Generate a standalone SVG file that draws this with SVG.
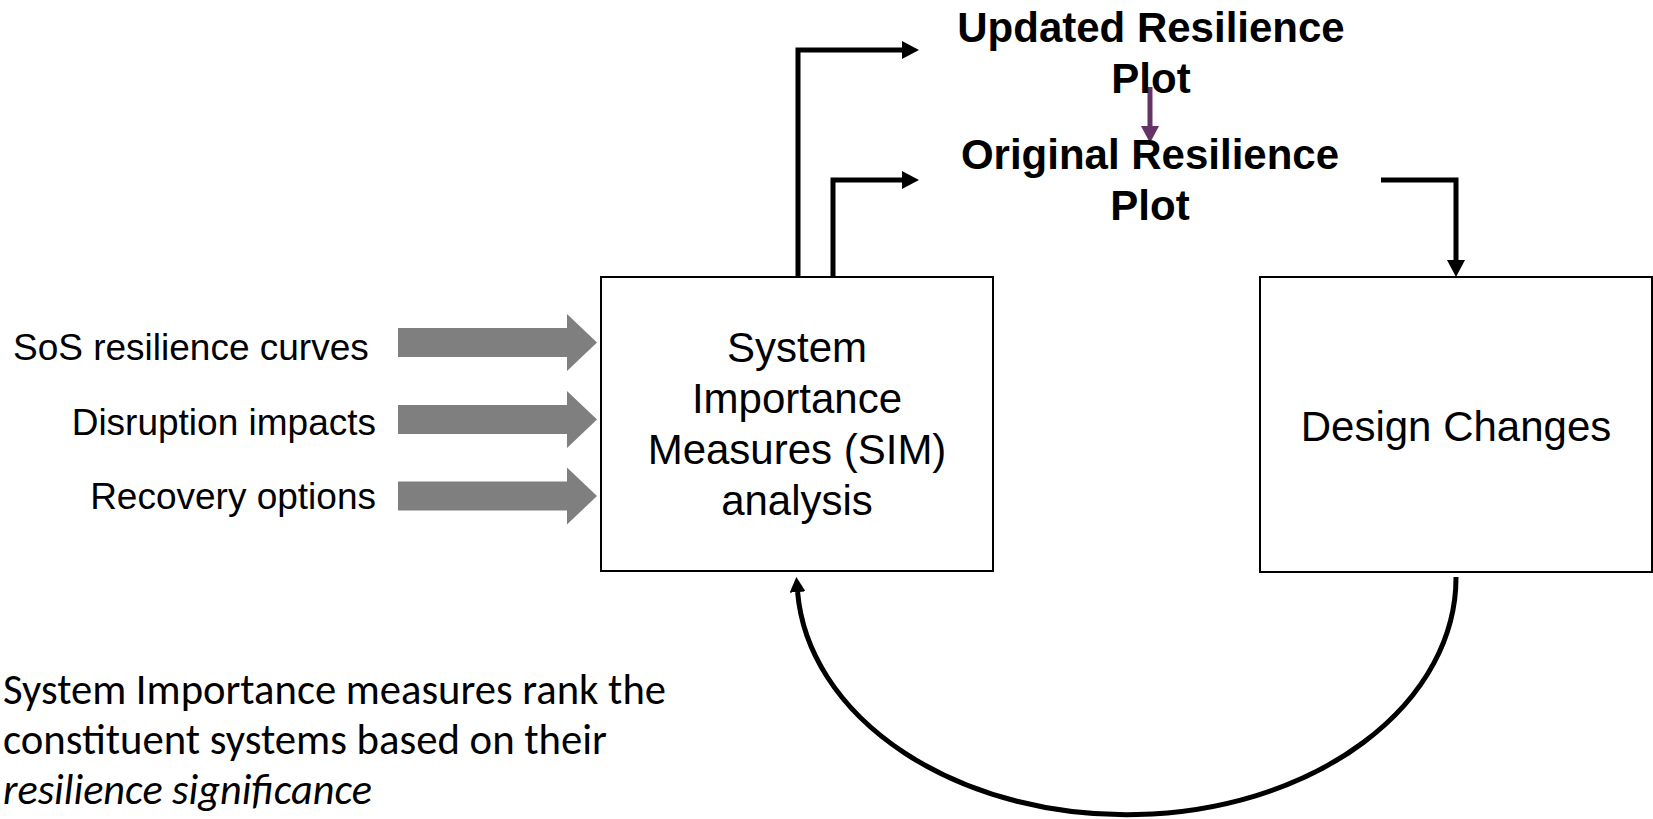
<svg xmlns="http://www.w3.org/2000/svg" width="1653" height="819" viewBox="0 0 1653 819">
  <defs>
    <style>
      .box{fill:#fff;stroke:#000;stroke-width:2}
      .txt{font-family:"Liberation Sans",Arial,sans-serif;font-size:42px;fill:#000;text-anchor:middle}
      .ttl{font-family:"Liberation Sans",Arial,sans-serif;font-size:42px;font-weight:bold;fill:#000;text-anchor:middle}
      .inp{font-family:"Liberation Sans",Arial,sans-serif;font-size:37px;fill:#000}
      .note{font-family:Calibri,Carlito,Lato,sans-serif;font-size:43px;fill:#000}
      .wire{fill:none;stroke:#000;stroke-width:5}
      .block{fill:#7f7f7f}
    </style>
    <marker id="head" markerUnits="userSpaceOnUse" viewBox="0 0 17 18" refX="0" refY="9" markerWidth="17" markerHeight="18" orient="auto">
      <path d="M0,0 L17,9 L0,18 Z" fill="#000"/>
    </marker>
    <marker id="head-purple" markerUnits="userSpaceOnUse" viewBox="0 0 17 18" refX="0" refY="9" markerWidth="17" markerHeight="18" orient="auto">
      <path d="M0,0 L17,9 L0,18 Z" fill="#663366"/>
    </marker>
    <marker id="head-curve" markerUnits="userSpaceOnUse" viewBox="0 0 15 16" refX="0" refY="8" markerWidth="15" markerHeight="16" orient="auto">
      <path d="M0,0 L15,8 L0,16 Z" fill="#000"/>
    </marker>
  </defs>

  <rect width="1653" height="819" fill="#fff"/>

  <!-- connectors -->
  <g id="connectors">
    <path class="wire" d="M798,278 V50 H902" marker-end="url(#head)"/>
    <path class="wire" d="M833,281 V180 H902" marker-end="url(#head)"/>
    <path class="wire" d="M1381,180 H1456 V260" marker-end="url(#head)"/>
    <path d="M1150,87 V126" fill="none" stroke="#663366" stroke-width="5" marker-end="url(#head-purple)"/>
    <path class="wire" stroke-width="4.5" d="M1456,577 A329.5 237 0 0 1 797.6,592" marker-end="url(#head-curve)"/>
    <!-- block arrows feeding the analysis box -->
    <polygon class="block" points="398,328 567,328 567,314 597,342.5 567,371 567,357 398,357"/>
    <polygon class="block" points="398,405 567,405 567,391 597,419.5 567,448 567,434 398,434"/>
    <polygon class="block" points="398,481.5 567,481.5 567,467.5 597,496 567,524.5 567,510.5 398,510.5"/>
  </g>

  <g id="node-updated-plot">
    <text class="ttl" x="1151" y="42">Updated Resilience</text>
    <text class="ttl" x="1151" y="93">Plot</text>
  </g>

  <g id="node-original-plot">
    <text class="ttl" x="1150" y="169">Original Resilience</text>
    <text class="ttl" x="1150" y="220">Plot</text>
  </g>

  <g id="node-sim">
    <rect class="box" x="601" y="277" width="392" height="294"/>
    <text class="txt" x="797" y="362">System</text>
    <text class="txt" x="797" y="413">Importance</text>
    <text class="txt" x="797" y="464">Measures (SIM)</text>
    <text class="txt" x="797" y="515">analysis</text>
  </g>

  <g id="node-design">
    <rect class="box" x="1260" y="277" width="392" height="295"/>
    <text class="txt" x="1456" y="441">Design Changes</text>
  </g>

  <g id="inputs">
    <text class="inp" x="13" y="360">SoS resilience curves</text>
    <text class="inp" x="376" y="435" text-anchor="end">Disruption impacts</text>
    <text class="inp" x="376" y="509" text-anchor="end">Recovery options</text>
  </g>

  <g id="note">
    <text class="note" x="3" y="704" textLength="663" lengthAdjust="spacingAndGlyphs">System Importance measures rank the</text>
    <text class="note" x="3" y="754" textLength="604" lengthAdjust="spacingAndGlyphs">constituent systems based on their</text>
    <text class="note" x="3" y="804" font-style="italic" textLength="369" lengthAdjust="spacingAndGlyphs">resilience significance</text>
  </g>
</svg>
